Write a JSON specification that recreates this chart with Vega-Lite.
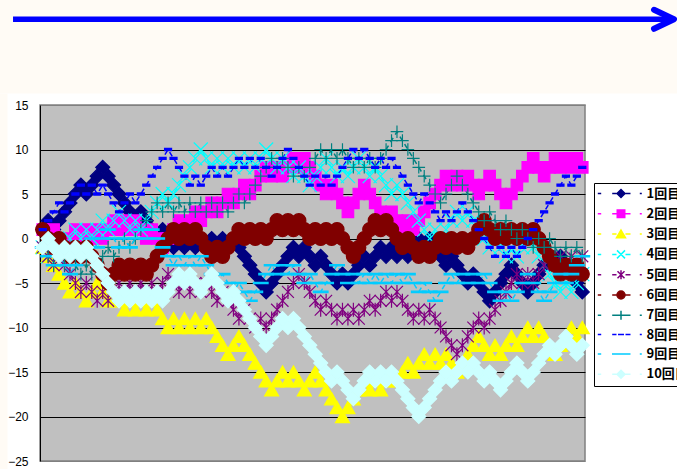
{
"$schema":"https://vega.github.io/schema/vega-lite/v6.json",
"width":545,"height":356,
"autosize":{"type":"none"},
"padding":{"left":40,"top":105,"right":92,"bottom":8},
"background":"#FFFFFF",
"config":{"view":{"fill":"#C0C0C0","stroke":"#808080","strokeWidth":1.5},"font":"Liberation Sans"},
"resolve":{"scale":{"shape":"independent","fill":"independent","stroke":"independent"}},
"data":{"values":[
{"s":"1回目","i":1,"v":1},{"s":"1回目","i":2,"v":2},{"s":"1回目","i":3,"v":1},{"s":"1回目","i":4,"v":2},{"s":"1回目","i":5,"v":3},{"s":"1回目","i":6,"v":4},{"s":"1回目","i":7,"v":5},{"s":"1回目","i":8,"v":6},{"s":"1回目","i":9,"v":5},{"s":"1回目","i":10,"v":6},
{"s":"1回目","i":11,"v":7},{"s":"1回目","i":12,"v":8},{"s":"1回目","i":13,"v":7},{"s":"1回目","i":14,"v":6},{"s":"1回目","i":15,"v":5},{"s":"1回目","i":16,"v":4},{"s":"1回目","i":17,"v":3},{"s":"1回目","i":18,"v":2},{"s":"1回目","i":19,"v":3},{"s":"1回目","i":20,"v":2},
{"s":"1回目","i":21,"v":1},{"s":"1回目","i":22,"v":0},{"s":"1回目","i":23,"v":1},{"s":"1回目","i":24,"v":0},{"s":"1回目","i":25,"v":-1},{"s":"1回目","i":26,"v":0},{"s":"1回目","i":27,"v":-1},{"s":"1回目","i":28,"v":0},{"s":"1回目","i":29,"v":-1},{"s":"1回目","i":30,"v":0},
{"s":"1回目","i":31,"v":-1},{"s":"1回目","i":32,"v":0},{"s":"1回目","i":33,"v":-1},{"s":"1回目","i":34,"v":0},{"s":"1回目","i":35,"v":-1},{"s":"1回目","i":36,"v":0},{"s":"1回目","i":37,"v":-1},{"s":"1回目","i":38,"v":-2},{"s":"1回目","i":39,"v":-3},{"s":"1回目","i":40,"v":-4},
{"s":"1回目","i":41,"v":-5},{"s":"1回目","i":42,"v":-6},{"s":"1回目","i":43,"v":-5},{"s":"1回目","i":44,"v":-4},{"s":"1回目","i":45,"v":-3},{"s":"1回目","i":46,"v":-2},{"s":"1回目","i":47,"v":-1},{"s":"1回目","i":48,"v":-2},{"s":"1回目","i":49,"v":-1},{"s":"1回目","i":50,"v":-2},
{"s":"1回目","i":51,"v":-3},{"s":"1回目","i":52,"v":-2},{"s":"1回目","i":53,"v":-3},{"s":"1回目","i":54,"v":-4},{"s":"1回目","i":55,"v":-5},{"s":"1回目","i":56,"v":-4},{"s":"1回目","i":57,"v":-5},{"s":"1回目","i":58,"v":-4},{"s":"1回目","i":59,"v":-3},{"s":"1回目","i":60,"v":-2},
{"s":"1回目","i":61,"v":-3},{"s":"1回目","i":62,"v":-2},{"s":"1回目","i":63,"v":-1},{"s":"1回目","i":64,"v":-2},{"s":"1回目","i":65,"v":-1},{"s":"1回目","i":66,"v":-2},{"s":"1回目","i":67,"v":-1},{"s":"1回目","i":68,"v":-2},{"s":"1回目","i":69,"v":-1},{"s":"1回目","i":70,"v":0},
{"s":"1回目","i":71,"v":-1},{"s":"1回目","i":72,"v":0},{"s":"1回目","i":73,"v":-1},{"s":"1回目","i":74,"v":-2},{"s":"1回目","i":75,"v":-3},{"s":"1回目","i":76,"v":-2},{"s":"1回目","i":77,"v":-3},{"s":"1回目","i":78,"v":-4},{"s":"1回目","i":79,"v":-5},{"s":"1回目","i":80,"v":-4},
{"s":"1回目","i":81,"v":-5},{"s":"1回目","i":82,"v":-6},{"s":"1回目","i":83,"v":-7},{"s":"1回目","i":84,"v":-6},{"s":"1回目","i":85,"v":-5},{"s":"1回目","i":86,"v":-4},{"s":"1回目","i":87,"v":-3},{"s":"1回目","i":88,"v":-4},{"s":"1回目","i":89,"v":-5},{"s":"1回目","i":90,"v":-6},
{"s":"1回目","i":91,"v":-5},{"s":"1回目","i":92,"v":-4},{"s":"1回目","i":93,"v":-3},{"s":"1回目","i":94,"v":-2},{"s":"1回目","i":95,"v":-3},{"s":"1回目","i":96,"v":-2},{"s":"1回目","i":97,"v":-3},{"s":"1回目","i":98,"v":-4},{"s":"1回目","i":99,"v":-5},{"s":"1回目","i":100,"v":-6},
{"s":"2回目","i":1,"v":1},{"s":"2回目","i":2,"v":0},{"s":"2回目","i":3,"v":1},{"s":"2回目","i":4,"v":0},{"s":"2回目","i":5,"v":-1},{"s":"2回目","i":6,"v":0},{"s":"2回目","i":7,"v":1},{"s":"2回目","i":8,"v":0},{"s":"2回目","i":9,"v":1},{"s":"2回目","i":10,"v":0},
{"s":"2回目","i":11,"v":1},{"s":"2回目","i":12,"v":0},{"s":"2回目","i":13,"v":1},{"s":"2回目","i":14,"v":2},{"s":"2回目","i":15,"v":1},{"s":"2回目","i":16,"v":2},{"s":"2回目","i":17,"v":1},{"s":"2回目","i":18,"v":2},{"s":"2回目","i":19,"v":1},{"s":"2回目","i":20,"v":0},
{"s":"2回目","i":21,"v":1},{"s":"2回目","i":22,"v":0},{"s":"2回目","i":23,"v":-1},{"s":"2回目","i":24,"v":0},{"s":"2回目","i":25,"v":1},{"s":"2回目","i":26,"v":2},{"s":"2回目","i":27,"v":1},{"s":"2回目","i":28,"v":2},{"s":"2回目","i":29,"v":3},{"s":"2回目","i":30,"v":2},
{"s":"2回目","i":31,"v":3},{"s":"2回目","i":32,"v":4},{"s":"2回目","i":33,"v":3},{"s":"2回目","i":34,"v":4},{"s":"2回目","i":35,"v":5},{"s":"2回目","i":36,"v":4},{"s":"2回目","i":37,"v":5},{"s":"2回目","i":38,"v":6},{"s":"2回目","i":39,"v":5},{"s":"2回目","i":40,"v":6},
{"s":"2回目","i":41,"v":7},{"s":"2回目","i":42,"v":8},{"s":"2回目","i":43,"v":7},{"s":"2回目","i":44,"v":8},{"s":"2回目","i":45,"v":7},{"s":"2回目","i":46,"v":8},{"s":"2回目","i":47,"v":9},{"s":"2回目","i":48,"v":8},{"s":"2回目","i":49,"v":9},{"s":"2回目","i":50,"v":8},
{"s":"2回目","i":51,"v":7},{"s":"2回目","i":52,"v":6},{"s":"2回目","i":53,"v":5},{"s":"2回目","i":54,"v":6},{"s":"2回目","i":55,"v":5},{"s":"2回目","i":56,"v":4},{"s":"2回目","i":57,"v":3},{"s":"2回目","i":58,"v":4},{"s":"2回目","i":59,"v":5},{"s":"2回目","i":60,"v":6},
{"s":"2回目","i":61,"v":5},{"s":"2回目","i":62,"v":4},{"s":"2回目","i":63,"v":3},{"s":"2回目","i":64,"v":2},{"s":"2回目","i":65,"v":3},{"s":"2回目","i":66,"v":2},{"s":"2回目","i":67,"v":1},{"s":"2回目","i":68,"v":2},{"s":"2回目","i":69,"v":1},{"s":"2回目","i":70,"v":2},
{"s":"2回目","i":71,"v":3},{"s":"2回目","i":72,"v":4},{"s":"2回目","i":73,"v":5},{"s":"2回目","i":74,"v":6},{"s":"2回目","i":75,"v":7},{"s":"2回目","i":76,"v":6},{"s":"2回目","i":77,"v":7},{"s":"2回目","i":78,"v":6},{"s":"2回目","i":79,"v":7},{"s":"2回目","i":80,"v":6},
{"s":"2回目","i":81,"v":5},{"s":"2回目","i":82,"v":6},{"s":"2回目","i":83,"v":7},{"s":"2回目","i":84,"v":6},{"s":"2回目","i":85,"v":5},{"s":"2回目","i":86,"v":4},{"s":"2回目","i":87,"v":5},{"s":"2回目","i":88,"v":6},{"s":"2回目","i":89,"v":7},{"s":"2回目","i":90,"v":8},
{"s":"2回目","i":91,"v":9},{"s":"2回目","i":92,"v":8},{"s":"2回目","i":93,"v":7},{"s":"2回目","i":94,"v":8},{"s":"2回目","i":95,"v":9},{"s":"2回目","i":96,"v":8},{"s":"2回目","i":97,"v":9},{"s":"2回目","i":98,"v":8},{"s":"2回目","i":99,"v":9},{"s":"2回目","i":100,"v":8},
{"s":"3回目","i":1,"v":-1},{"s":"3回目","i":2,"v":-2},{"s":"3回目","i":3,"v":-3},{"s":"3回目","i":4,"v":-4},{"s":"3回目","i":5,"v":-5},{"s":"3回目","i":6,"v":-6},{"s":"3回目","i":7,"v":-5},{"s":"3回目","i":8,"v":-6},{"s":"3回目","i":9,"v":-7},{"s":"3回目","i":10,"v":-6},
{"s":"3回目","i":11,"v":-5},{"s":"3回目","i":12,"v":-6},{"s":"3回目","i":13,"v":-7},{"s":"3回目","i":14,"v":-6},{"s":"3回目","i":15,"v":-7},{"s":"3回目","i":16,"v":-8},{"s":"3回目","i":17,"v":-7},{"s":"3回目","i":18,"v":-8},{"s":"3回目","i":19,"v":-7},{"s":"3回目","i":20,"v":-8},
{"s":"3回目","i":21,"v":-7},{"s":"3回目","i":22,"v":-8},{"s":"3回目","i":23,"v":-9},{"s":"3回目","i":24,"v":-10},{"s":"3回目","i":25,"v":-9},{"s":"3回目","i":26,"v":-10},{"s":"3回目","i":27,"v":-9},{"s":"3回目","i":28,"v":-10},{"s":"3回目","i":29,"v":-9},{"s":"3回目","i":30,"v":-10},
{"s":"3回目","i":31,"v":-9},{"s":"3回目","i":32,"v":-10},{"s":"3回目","i":33,"v":-11},{"s":"3回目","i":34,"v":-12},{"s":"3回目","i":35,"v":-13},{"s":"3回目","i":36,"v":-12},{"s":"3回目","i":37,"v":-11},{"s":"3回目","i":38,"v":-12},{"s":"3回目","i":39,"v":-13},{"s":"3回目","i":40,"v":-14},
{"s":"3回目","i":41,"v":-15},{"s":"3回目","i":42,"v":-16},{"s":"3回目","i":43,"v":-17},{"s":"3回目","i":44,"v":-16},{"s":"3回目","i":45,"v":-15},{"s":"3回目","i":46,"v":-16},{"s":"3回目","i":47,"v":-15},{"s":"3回目","i":48,"v":-16},{"s":"3回目","i":49,"v":-17},{"s":"3回目","i":50,"v":-16},
{"s":"3回目","i":51,"v":-15},{"s":"3回目","i":52,"v":-16},{"s":"3回目","i":53,"v":-17},{"s":"3回目","i":54,"v":-18},{"s":"3回目","i":55,"v":-19},{"s":"3回目","i":56,"v":-20},{"s":"3回目","i":57,"v":-19},{"s":"3回目","i":58,"v":-18},{"s":"3回目","i":59,"v":-17},{"s":"3回目","i":60,"v":-16},
{"s":"3回目","i":61,"v":-17},{"s":"3回目","i":62,"v":-16},{"s":"3回目","i":63,"v":-17},{"s":"3回目","i":64,"v":-16},{"s":"3回目","i":65,"v":-15},{"s":"3回目","i":66,"v":-16},{"s":"3回目","i":67,"v":-15},{"s":"3回目","i":68,"v":-14},{"s":"3回目","i":69,"v":-15},{"s":"3回目","i":70,"v":-14},
{"s":"3回目","i":71,"v":-13},{"s":"3回目","i":72,"v":-14},{"s":"3回目","i":73,"v":-13},{"s":"3回目","i":74,"v":-14},{"s":"3回目","i":75,"v":-13},{"s":"3回目","i":76,"v":-14},{"s":"3回目","i":77,"v":-15},{"s":"3回目","i":78,"v":-14},{"s":"3回目","i":79,"v":-13},{"s":"3回目","i":80,"v":-12},
{"s":"3回目","i":81,"v":-11},{"s":"3回目","i":82,"v":-12},{"s":"3回目","i":83,"v":-13},{"s":"3回目","i":84,"v":-12},{"s":"3回目","i":85,"v":-13},{"s":"3回目","i":86,"v":-12},{"s":"3回目","i":87,"v":-11},{"s":"3回目","i":88,"v":-12},{"s":"3回目","i":89,"v":-11},{"s":"3回目","i":90,"v":-10},
{"s":"3回目","i":91,"v":-11},{"s":"3回目","i":92,"v":-10},{"s":"3回目","i":93,"v":-11},{"s":"3回目","i":94,"v":-12},{"s":"3回目","i":95,"v":-13},{"s":"3回目","i":96,"v":-12},{"s":"3回目","i":97,"v":-11},{"s":"3回目","i":98,"v":-10},{"s":"3回目","i":99,"v":-11},{"s":"3回目","i":100,"v":-10},
{"s":"4回目","i":1,"v":-1},{"s":"4回目","i":2,"v":-2},{"s":"4回目","i":3,"v":-1},{"s":"4回目","i":4,"v":-2},{"s":"4回目","i":5,"v":-1},{"s":"4回目","i":6,"v":0},{"s":"4回目","i":7,"v":1},{"s":"4回目","i":8,"v":0},{"s":"4回目","i":9,"v":1},{"s":"4回目","i":10,"v":0},
{"s":"4回目","i":11,"v":1},{"s":"4回目","i":12,"v":2},{"s":"4回目","i":13,"v":1},{"s":"4回目","i":14,"v":2},{"s":"4回目","i":15,"v":3},{"s":"4回目","i":16,"v":2},{"s":"4回目","i":17,"v":1},{"s":"4回目","i":18,"v":2},{"s":"4回目","i":19,"v":1},{"s":"4回目","i":20,"v":2},
{"s":"4回目","i":21,"v":3},{"s":"4回目","i":22,"v":4},{"s":"4回目","i":23,"v":5},{"s":"4回目","i":24,"v":4},{"s":"4回目","i":25,"v":5},{"s":"4回目","i":26,"v":6},{"s":"4回目","i":27,"v":7},{"s":"4回目","i":28,"v":8},{"s":"4回目","i":29,"v":9},{"s":"4回目","i":30,"v":10},
{"s":"4回目","i":31,"v":9},{"s":"4回目","i":32,"v":8},{"s":"4回目","i":33,"v":9},{"s":"4回目","i":34,"v":8},{"s":"4回目","i":35,"v":9},{"s":"4回目","i":36,"v":8},{"s":"4回目","i":37,"v":9},{"s":"4回目","i":38,"v":8},{"s":"4回目","i":39,"v":9},{"s":"4回目","i":40,"v":8},
{"s":"4回目","i":41,"v":9},{"s":"4回目","i":42,"v":10},{"s":"4回目","i":43,"v":9},{"s":"4回目","i":44,"v":8},{"s":"4回目","i":45,"v":9},{"s":"4回目","i":46,"v":8},{"s":"4回目","i":47,"v":7},{"s":"4回目","i":48,"v":8},{"s":"4回目","i":49,"v":7},{"s":"4回目","i":50,"v":6},
{"s":"4回目","i":51,"v":7},{"s":"4回目","i":52,"v":8},{"s":"4回目","i":53,"v":9},{"s":"4回目","i":54,"v":8},{"s":"4回目","i":55,"v":7},{"s":"4回目","i":56,"v":8},{"s":"4回目","i":57,"v":7},{"s":"4回目","i":58,"v":8},{"s":"4回目","i":59,"v":9},{"s":"4回目","i":60,"v":8},
{"s":"4回目","i":61,"v":7},{"s":"4回目","i":62,"v":8},{"s":"4回目","i":63,"v":7},{"s":"4回目","i":64,"v":6},{"s":"4回目","i":65,"v":5},{"s":"4回目","i":66,"v":6},{"s":"4回目","i":67,"v":5},{"s":"4回目","i":68,"v":4},{"s":"4回目","i":69,"v":3},{"s":"4回目","i":70,"v":2},
{"s":"4回目","i":71,"v":1},{"s":"4回目","i":72,"v":0},{"s":"4回目","i":73,"v":1},{"s":"4回目","i":74,"v":0},{"s":"4回目","i":75,"v":1},{"s":"4回目","i":76,"v":2},{"s":"4回目","i":77,"v":3},{"s":"4回目","i":78,"v":2},{"s":"4回目","i":79,"v":3},{"s":"4回目","i":80,"v":2},
{"s":"4回目","i":81,"v":1},{"s":"4回目","i":82,"v":0},{"s":"4回目","i":83,"v":-1},{"s":"4回目","i":84,"v":0},{"s":"4回目","i":85,"v":-1},{"s":"4回目","i":86,"v":-2},{"s":"4回目","i":87,"v":-1},{"s":"4回目","i":88,"v":-2},{"s":"4回目","i":89,"v":-1},{"s":"4回目","i":90,"v":0},
{"s":"4回目","i":91,"v":-1},{"s":"4回目","i":92,"v":-2},{"s":"4回目","i":93,"v":-3},{"s":"4回目","i":94,"v":-4},{"s":"4回目","i":95,"v":-5},{"s":"4回目","i":96,"v":-6},{"s":"4回目","i":97,"v":-5},{"s":"4回目","i":98,"v":-6},{"s":"4回目","i":99,"v":-5},{"s":"4回目","i":100,"v":-4},
{"s":"5回目","i":1,"v":-1},{"s":"5回目","i":2,"v":-2},{"s":"5回目","i":3,"v":-3},{"s":"5回目","i":4,"v":-2},{"s":"5回目","i":5,"v":-3},{"s":"5回目","i":6,"v":-4},{"s":"5回目","i":7,"v":-5},{"s":"5回目","i":8,"v":-6},{"s":"5回目","i":9,"v":-5},{"s":"5回目","i":10,"v":-6},
{"s":"5回目","i":11,"v":-7},{"s":"5回目","i":12,"v":-6},{"s":"5回目","i":13,"v":-7},{"s":"5回目","i":14,"v":-6},{"s":"5回目","i":15,"v":-5},{"s":"5回目","i":16,"v":-6},{"s":"5回目","i":17,"v":-5},{"s":"5回目","i":18,"v":-6},{"s":"5回目","i":19,"v":-5},{"s":"5回目","i":20,"v":-6},
{"s":"5回目","i":21,"v":-5},{"s":"5回目","i":22,"v":-6},{"s":"5回目","i":23,"v":-5},{"s":"5回目","i":24,"v":-4},{"s":"5回目","i":25,"v":-5},{"s":"5回目","i":26,"v":-6},{"s":"5回目","i":27,"v":-5},{"s":"5回目","i":28,"v":-6},{"s":"5回目","i":29,"v":-5},{"s":"5回目","i":30,"v":-6},
{"s":"5回目","i":31,"v":-5},{"s":"5回目","i":32,"v":-6},{"s":"5回目","i":33,"v":-7},{"s":"5回目","i":34,"v":-6},{"s":"5回目","i":35,"v":-7},{"s":"5回目","i":36,"v":-8},{"s":"5回目","i":37,"v":-9},{"s":"5回目","i":38,"v":-8},{"s":"5回目","i":39,"v":-9},{"s":"5回目","i":40,"v":-10},
{"s":"5回目","i":41,"v":-9},{"s":"5回目","i":42,"v":-10},{"s":"5回目","i":43,"v":-9},{"s":"5回目","i":44,"v":-8},{"s":"5回目","i":45,"v":-7},{"s":"5回目","i":46,"v":-6},{"s":"5回目","i":47,"v":-5},{"s":"5回目","i":48,"v":-4},{"s":"5回目","i":49,"v":-5},{"s":"5回目","i":50,"v":-6},
{"s":"5回目","i":51,"v":-7},{"s":"5回目","i":52,"v":-8},{"s":"5回目","i":53,"v":-7},{"s":"5回目","i":54,"v":-8},{"s":"5回目","i":55,"v":-9},{"s":"5回目","i":56,"v":-8},{"s":"5回目","i":57,"v":-9},{"s":"5回目","i":58,"v":-8},{"s":"5回目","i":59,"v":-9},{"s":"5回目","i":60,"v":-8},
{"s":"5回目","i":61,"v":-7},{"s":"5回目","i":62,"v":-8},{"s":"5回目","i":63,"v":-7},{"s":"5回目","i":64,"v":-6},{"s":"5回目","i":65,"v":-7},{"s":"5回目","i":66,"v":-6},{"s":"5回目","i":67,"v":-7},{"s":"5回目","i":68,"v":-8},{"s":"5回目","i":69,"v":-9},{"s":"5回目","i":70,"v":-8},
{"s":"5回目","i":71,"v":-9},{"s":"5回目","i":72,"v":-8},{"s":"5回目","i":73,"v":-9},{"s":"5回目","i":74,"v":-10},{"s":"5回目","i":75,"v":-11},{"s":"5回目","i":76,"v":-12},{"s":"5回目","i":77,"v":-13},{"s":"5回目","i":78,"v":-12},{"s":"5回目","i":79,"v":-11},{"s":"5回目","i":80,"v":-10},
{"s":"5回目","i":81,"v":-9},{"s":"5回目","i":82,"v":-10},{"s":"5回目","i":83,"v":-9},{"s":"5回目","i":84,"v":-8},{"s":"5回目","i":85,"v":-7},{"s":"5回目","i":86,"v":-6},{"s":"5回目","i":87,"v":-5},{"s":"5回目","i":88,"v":-4},{"s":"5回目","i":89,"v":-5},{"s":"5回目","i":90,"v":-4},
{"s":"5回目","i":91,"v":-5},{"s":"5回目","i":92,"v":-4},{"s":"5回目","i":93,"v":-3},{"s":"5回目","i":94,"v":-2},{"s":"5回目","i":95,"v":-3},{"s":"5回目","i":96,"v":-2},{"s":"5回目","i":97,"v":-3},{"s":"5回目","i":98,"v":-2},{"s":"5回目","i":99,"v":-3},{"s":"5回目","i":100,"v":-2},
{"s":"6回目","i":1,"v":1},{"s":"6回目","i":2,"v":0},{"s":"6回目","i":3,"v":-1},{"s":"6回目","i":4,"v":0},{"s":"6回目","i":5,"v":-1},{"s":"6回目","i":6,"v":-2},{"s":"6回目","i":7,"v":-1},{"s":"6回目","i":8,"v":-2},{"s":"6回目","i":9,"v":-1},{"s":"6回目","i":10,"v":-2},
{"s":"6回目","i":11,"v":-3},{"s":"6回目","i":12,"v":-4},{"s":"6回目","i":13,"v":-5},{"s":"6回目","i":14,"v":-4},{"s":"6回目","i":15,"v":-3},{"s":"6回目","i":16,"v":-4},{"s":"6回目","i":17,"v":-3},{"s":"6回目","i":18,"v":-4},{"s":"6回目","i":19,"v":-3},{"s":"6回目","i":20,"v":-4},
{"s":"6回目","i":21,"v":-3},{"s":"6回目","i":22,"v":-2},{"s":"6回目","i":23,"v":-1},{"s":"6回目","i":24,"v":0},{"s":"6回目","i":25,"v":1},{"s":"6回目","i":26,"v":0},{"s":"6回目","i":27,"v":1},{"s":"6回目","i":28,"v":0},{"s":"6回目","i":29,"v":1},{"s":"6回目","i":30,"v":0},
{"s":"6回目","i":31,"v":-1},{"s":"6回目","i":32,"v":-2},{"s":"6回目","i":33,"v":-1},{"s":"6回目","i":34,"v":-2},{"s":"6回目","i":35,"v":-1},{"s":"6回目","i":36,"v":0},{"s":"6回目","i":37,"v":1},{"s":"6回目","i":38,"v":0},{"s":"6回目","i":39,"v":1},{"s":"6回目","i":40,"v":0},
{"s":"6回目","i":41,"v":1},{"s":"6回目","i":42,"v":0},{"s":"6回目","i":43,"v":1},{"s":"6回目","i":44,"v":2},{"s":"6回目","i":45,"v":1},{"s":"6回目","i":46,"v":2},{"s":"6回目","i":47,"v":1},{"s":"6回目","i":48,"v":2},{"s":"6回目","i":49,"v":1},{"s":"6回目","i":50,"v":0},
{"s":"6回目","i":51,"v":1},{"s":"6回目","i":52,"v":0},{"s":"6回目","i":53,"v":1},{"s":"6回目","i":54,"v":0},{"s":"6回目","i":55,"v":1},{"s":"6回目","i":56,"v":0},{"s":"6回目","i":57,"v":-1},{"s":"6回目","i":58,"v":-2},{"s":"6回目","i":59,"v":-1},{"s":"6回目","i":60,"v":0},
{"s":"6回目","i":61,"v":1},{"s":"6回目","i":62,"v":2},{"s":"6回目","i":63,"v":1},{"s":"6回目","i":64,"v":2},{"s":"6回目","i":65,"v":1},{"s":"6回目","i":66,"v":0},{"s":"6回目","i":67,"v":-1},{"s":"6回目","i":68,"v":0},{"s":"6回目","i":69,"v":-1},{"s":"6回目","i":70,"v":-2},
{"s":"6回目","i":71,"v":-1},{"s":"6回目","i":72,"v":-2},{"s":"6回目","i":73,"v":-1},{"s":"6回目","i":74,"v":0},{"s":"6回目","i":75,"v":-1},{"s":"6回目","i":76,"v":0},{"s":"6回目","i":77,"v":-1},{"s":"6回目","i":78,"v":0},{"s":"6回目","i":79,"v":-1},{"s":"6回目","i":80,"v":0},
{"s":"6回目","i":81,"v":1},{"s":"6回目","i":82,"v":2},{"s":"6回目","i":83,"v":1},{"s":"6回目","i":84,"v":0},{"s":"6回目","i":85,"v":1},{"s":"6回目","i":86,"v":0},{"s":"6回目","i":87,"v":1},{"s":"6回目","i":88,"v":0},{"s":"6回目","i":89,"v":1},{"s":"6回目","i":90,"v":0},
{"s":"6回目","i":91,"v":1},{"s":"6回目","i":92,"v":0},{"s":"6回目","i":93,"v":-1},{"s":"6回目","i":94,"v":-2},{"s":"6回目","i":95,"v":-3},{"s":"6回目","i":96,"v":-4},{"s":"6回目","i":97,"v":-3},{"s":"6回目","i":98,"v":-4},{"s":"6回目","i":99,"v":-3},{"s":"6回目","i":100,"v":-4},
{"s":"7回目","i":1,"v":-1},{"s":"7回目","i":2,"v":-2},{"s":"7回目","i":3,"v":-3},{"s":"7回目","i":4,"v":-2},{"s":"7回目","i":5,"v":-3},{"s":"7回目","i":6,"v":-2},{"s":"7回目","i":7,"v":-3},{"s":"7回目","i":8,"v":-4},{"s":"7回目","i":9,"v":-3},{"s":"7回目","i":10,"v":-4},
{"s":"7回目","i":11,"v":-3},{"s":"7回目","i":12,"v":-2},{"s":"7回目","i":13,"v":-1},{"s":"7回目","i":14,"v":-2},{"s":"7回目","i":15,"v":-1},{"s":"7回目","i":16,"v":0},{"s":"7回目","i":17,"v":-1},{"s":"7回目","i":18,"v":0},{"s":"7回目","i":19,"v":1},{"s":"7回目","i":20,"v":2},
{"s":"7回目","i":21,"v":3},{"s":"7回目","i":22,"v":4},{"s":"7回目","i":23,"v":3},{"s":"7回目","i":24,"v":4},{"s":"7回目","i":25,"v":3},{"s":"7回目","i":26,"v":4},{"s":"7回目","i":27,"v":3},{"s":"7回目","i":28,"v":4},{"s":"7回目","i":29,"v":3},{"s":"7回目","i":30,"v":4},
{"s":"7回目","i":31,"v":3},{"s":"7回目","i":32,"v":4},{"s":"7回目","i":33,"v":3},{"s":"7回目","i":34,"v":4},{"s":"7回目","i":35,"v":3},{"s":"7回目","i":36,"v":4},{"s":"7回目","i":37,"v":5},{"s":"7回目","i":38,"v":4},{"s":"7回目","i":39,"v":5},{"s":"7回目","i":40,"v":6},
{"s":"7回目","i":41,"v":7},{"s":"7回目","i":42,"v":8},{"s":"7回目","i":43,"v":9},{"s":"7回目","i":44,"v":8},{"s":"7回目","i":45,"v":9},{"s":"7回目","i":46,"v":8},{"s":"7回目","i":47,"v":7},{"s":"7回目","i":48,"v":8},{"s":"7回目","i":49,"v":7},{"s":"7回目","i":50,"v":8},
{"s":"7回目","i":51,"v":9},{"s":"7回目","i":52,"v":10},{"s":"7回目","i":53,"v":9},{"s":"7回目","i":54,"v":10},{"s":"7回目","i":55,"v":9},{"s":"7回目","i":56,"v":10},{"s":"7回目","i":57,"v":9},{"s":"7回目","i":58,"v":8},{"s":"7回目","i":59,"v":9},{"s":"7回目","i":60,"v":8},
{"s":"7回目","i":61,"v":9},{"s":"7回目","i":62,"v":8},{"s":"7回目","i":63,"v":9},{"s":"7回目","i":64,"v":10},{"s":"7回目","i":65,"v":11},{"s":"7回目","i":66,"v":12},{"s":"7回目","i":67,"v":11},{"s":"7回目","i":68,"v":10},{"s":"7回目","i":69,"v":9},{"s":"7回目","i":70,"v":8},
{"s":"7回目","i":71,"v":7},{"s":"7回目","i":72,"v":6},{"s":"7回目","i":73,"v":5},{"s":"7回目","i":74,"v":4},{"s":"7回目","i":75,"v":5},{"s":"7回目","i":76,"v":6},{"s":"7回目","i":77,"v":7},{"s":"7回目","i":78,"v":6},{"s":"7回目","i":79,"v":5},{"s":"7回目","i":80,"v":4},
{"s":"7回目","i":81,"v":3},{"s":"7回目","i":82,"v":2},{"s":"7回目","i":83,"v":3},{"s":"7回目","i":84,"v":2},{"s":"7回目","i":85,"v":1},{"s":"7回目","i":86,"v":2},{"s":"7回目","i":87,"v":1},{"s":"7回目","i":88,"v":0},{"s":"7回目","i":89,"v":1},{"s":"7回目","i":90,"v":0},
{"s":"7回目","i":91,"v":-1},{"s":"7回目","i":92,"v":0},{"s":"7回目","i":93,"v":-1},{"s":"7回目","i":94,"v":0},{"s":"7回目","i":95,"v":-1},{"s":"7回目","i":96,"v":-2},{"s":"7回目","i":97,"v":-1},{"s":"7回目","i":98,"v":-2},{"s":"7回目","i":99,"v":-1},{"s":"7回目","i":100,"v":-2},
{"s":"8回目","i":1,"v":1},{"s":"8回目","i":2,"v":2},{"s":"8回目","i":3,"v":3},{"s":"8回目","i":4,"v":4},{"s":"8回目","i":5,"v":3},{"s":"8回目","i":6,"v":4},{"s":"8回目","i":7,"v":5},{"s":"8回目","i":8,"v":6},{"s":"8回目","i":9,"v":5},{"s":"8回目","i":10,"v":6},
{"s":"8回目","i":11,"v":5},{"s":"8回目","i":12,"v":6},{"s":"8回目","i":13,"v":5},{"s":"8回目","i":14,"v":4},{"s":"8回目","i":15,"v":3},{"s":"8回目","i":16,"v":4},{"s":"8回目","i":17,"v":5},{"s":"8回目","i":18,"v":4},{"s":"8回目","i":19,"v":5},{"s":"8回目","i":20,"v":6},
{"s":"8回目","i":21,"v":7},{"s":"8回目","i":22,"v":8},{"s":"8回目","i":23,"v":9},{"s":"8回目","i":24,"v":10},{"s":"8回目","i":25,"v":9},{"s":"8回目","i":26,"v":8},{"s":"8回目","i":27,"v":7},{"s":"8回目","i":28,"v":6},{"s":"8回目","i":29,"v":7},{"s":"8回目","i":30,"v":6},
{"s":"8回目","i":31,"v":7},{"s":"8回目","i":32,"v":8},{"s":"8回目","i":33,"v":7},{"s":"8回目","i":34,"v":8},{"s":"8回目","i":35,"v":7},{"s":"8回目","i":36,"v":8},{"s":"8回目","i":37,"v":9},{"s":"8回目","i":38,"v":8},{"s":"8回目","i":39,"v":9},{"s":"8回目","i":40,"v":8},
{"s":"8回目","i":41,"v":9},{"s":"8回目","i":42,"v":8},{"s":"8回目","i":43,"v":7},{"s":"8回目","i":44,"v":8},{"s":"8回目","i":45,"v":9},{"s":"8回目","i":46,"v":10},{"s":"8回目","i":47,"v":9},{"s":"8回目","i":48,"v":8},{"s":"8回目","i":49,"v":7},{"s":"8回目","i":50,"v":6},
{"s":"8回目","i":51,"v":7},{"s":"8回目","i":52,"v":6},{"s":"8回目","i":53,"v":7},{"s":"8回目","i":54,"v":6},{"s":"8回目","i":55,"v":7},{"s":"8回目","i":56,"v":8},{"s":"8回目","i":57,"v":9},{"s":"8回目","i":58,"v":10},{"s":"8回目","i":59,"v":9},{"s":"8回目","i":60,"v":10},
{"s":"8回目","i":61,"v":9},{"s":"8回目","i":62,"v":8},{"s":"8回目","i":63,"v":9},{"s":"8回目","i":64,"v":8},{"s":"8回目","i":65,"v":9},{"s":"8回目","i":66,"v":8},{"s":"8回目","i":67,"v":7},{"s":"8回目","i":68,"v":6},{"s":"8回目","i":69,"v":5},{"s":"8回目","i":70,"v":4},
{"s":"8回目","i":71,"v":5},{"s":"8回目","i":72,"v":4},{"s":"8回目","i":73,"v":3},{"s":"8回目","i":74,"v":2},{"s":"8回目","i":75,"v":3},{"s":"8回目","i":76,"v":2},{"s":"8回目","i":77,"v":3},{"s":"8回目","i":78,"v":4},{"s":"8回目","i":79,"v":3},{"s":"8回目","i":80,"v":2},
{"s":"8回目","i":81,"v":1},{"s":"8回目","i":82,"v":0},{"s":"8回目","i":83,"v":-1},{"s":"8回目","i":84,"v":-2},{"s":"8回目","i":85,"v":-1},{"s":"8回目","i":86,"v":-2},{"s":"8回目","i":87,"v":-1},{"s":"8回目","i":88,"v":-2},{"s":"8回目","i":89,"v":-1},{"s":"8回目","i":90,"v":0},
{"s":"8回目","i":91,"v":1},{"s":"8回目","i":92,"v":2},{"s":"8回目","i":93,"v":3},{"s":"8回目","i":94,"v":4},{"s":"8回目","i":95,"v":5},{"s":"8回目","i":96,"v":6},{"s":"8回目","i":97,"v":7},{"s":"8回目","i":98,"v":6},{"s":"8回目","i":99,"v":7},{"s":"8回目","i":100,"v":8},
{"s":"9回目","i":1,"v":-1},{"s":"9回目","i":2,"v":-2},{"s":"9回目","i":3,"v":-3},{"s":"9回目","i":4,"v":-2},{"s":"9回目","i":5,"v":-3},{"s":"9回目","i":6,"v":-4},{"s":"9回目","i":7,"v":-3},{"s":"9回目","i":8,"v":-2},{"s":"9回目","i":9,"v":-1},{"s":"9回目","i":10,"v":0},
{"s":"9回目","i":11,"v":-1},{"s":"9回目","i":12,"v":0},{"s":"9回目","i":13,"v":1},{"s":"9回目","i":14,"v":0},{"s":"9回目","i":15,"v":-1},{"s":"9回目","i":16,"v":0},{"s":"9回目","i":17,"v":-1},{"s":"9回目","i":18,"v":0},{"s":"9回目","i":19,"v":1},{"s":"9回目","i":20,"v":0},
{"s":"9回目","i":21,"v":1},{"s":"9回目","i":22,"v":0},{"s":"9回目","i":23,"v":-1},{"s":"9回目","i":24,"v":-2},{"s":"9回目","i":25,"v":-3},{"s":"9回目","i":26,"v":-2},{"s":"9回目","i":27,"v":-3},{"s":"9回目","i":28,"v":-2},{"s":"9回目","i":29,"v":-3},{"s":"9回目","i":30,"v":-2},
{"s":"9回目","i":31,"v":-3},{"s":"9回目","i":32,"v":-4},{"s":"9回目","i":33,"v":-5},{"s":"9回目","i":34,"v":-4},{"s":"9回目","i":35,"v":-5},{"s":"9回目","i":36,"v":-6},{"s":"9回目","i":37,"v":-5},{"s":"9回目","i":38,"v":-6},{"s":"9回目","i":39,"v":-7},{"s":"9回目","i":40,"v":-6},
{"s":"9回目","i":41,"v":-5},{"s":"9回目","i":42,"v":-4},{"s":"9回目","i":43,"v":-3},{"s":"9回目","i":44,"v":-4},{"s":"9回目","i":45,"v":-3},{"s":"9回目","i":46,"v":-4},{"s":"9回目","i":47,"v":-3},{"s":"9回目","i":48,"v":-4},{"s":"9回目","i":49,"v":-5},{"s":"9回目","i":50,"v":-4},
{"s":"9回目","i":51,"v":-5},{"s":"9回目","i":52,"v":-6},{"s":"9回目","i":53,"v":-5},{"s":"9回目","i":54,"v":-4},{"s":"9回目","i":55,"v":-3},{"s":"9回目","i":56,"v":-4},{"s":"9回目","i":57,"v":-5},{"s":"9回目","i":58,"v":-4},{"s":"9回目","i":59,"v":-5},{"s":"9回目","i":60,"v":-4},
{"s":"9回目","i":61,"v":-5},{"s":"9回目","i":62,"v":-4},{"s":"9回目","i":63,"v":-5},{"s":"9回目","i":64,"v":-4},{"s":"9回目","i":65,"v":-5},{"s":"9回目","i":66,"v":-4},{"s":"9回目","i":67,"v":-5},{"s":"9回目","i":68,"v":-4},{"s":"9回目","i":69,"v":-5},{"s":"9回目","i":70,"v":-6},
{"s":"9回目","i":71,"v":-5},{"s":"9回目","i":72,"v":-6},{"s":"9回目","i":73,"v":-7},{"s":"9回目","i":74,"v":-6},{"s":"9回目","i":75,"v":-5},{"s":"9回目","i":76,"v":-4},{"s":"9回目","i":77,"v":-5},{"s":"9回目","i":78,"v":-4},{"s":"9回目","i":79,"v":-5},{"s":"9回目","i":80,"v":-4},
{"s":"9回目","i":81,"v":-5},{"s":"9回目","i":82,"v":-4},{"s":"9回目","i":83,"v":-5},{"s":"9回目","i":84,"v":-6},{"s":"9回目","i":85,"v":-7},{"s":"9回目","i":86,"v":-6},{"s":"9回目","i":87,"v":-7},{"s":"9回目","i":88,"v":-6},{"s":"9回目","i":89,"v":-5},{"s":"9回目","i":90,"v":-4},
{"s":"9回目","i":91,"v":-5},{"s":"9回目","i":92,"v":-6},{"s":"9回目","i":93,"v":-7},{"s":"9回目","i":94,"v":-6},{"s":"9回目","i":95,"v":-5},{"s":"9回目","i":96,"v":-4},{"s":"9回目","i":97,"v":-5},{"s":"9回目","i":98,"v":-4},{"s":"9回目","i":99,"v":-3},{"s":"9回目","i":100,"v":-2},
{"s":"10回目","i":1,"v":-1},{"s":"10回目","i":2,"v":0},{"s":"10回目","i":3,"v":-1},{"s":"10回目","i":4,"v":-2},{"s":"10回目","i":5,"v":-1},{"s":"10回目","i":6,"v":-2},{"s":"10回目","i":7,"v":-1},{"s":"10回目","i":8,"v":-2},{"s":"10回目","i":9,"v":-1},{"s":"10回目","i":10,"v":-2},
{"s":"10回目","i":11,"v":-3},{"s":"10回目","i":12,"v":-4},{"s":"10回目","i":13,"v":-5},{"s":"10回目","i":14,"v":-6},{"s":"10回目","i":15,"v":-7},{"s":"10回目","i":16,"v":-6},{"s":"10回目","i":17,"v":-7},{"s":"10回目","i":18,"v":-6},{"s":"10回目","i":19,"v":-7},{"s":"10回目","i":20,"v":-6},
{"s":"10回目","i":21,"v":-7},{"s":"10回目","i":22,"v":-6},{"s":"10回目","i":23,"v":-7},{"s":"10回目","i":24,"v":-6},{"s":"10回目","i":25,"v":-5},{"s":"10回目","i":26,"v":-4},{"s":"10回目","i":27,"v":-5},{"s":"10回目","i":28,"v":-4},{"s":"10回目","i":29,"v":-5},{"s":"10回目","i":30,"v":-6},
{"s":"10回目","i":31,"v":-5},{"s":"10回目","i":32,"v":-4},{"s":"10回目","i":33,"v":-5},{"s":"10回目","i":34,"v":-6},{"s":"10回目","i":35,"v":-7},{"s":"10回目","i":36,"v":-6},{"s":"10回目","i":37,"v":-7},{"s":"10回目","i":38,"v":-8},{"s":"10回目","i":39,"v":-9},{"s":"10回目","i":40,"v":-10},
{"s":"10回目","i":41,"v":-11},{"s":"10回目","i":42,"v":-12},{"s":"10回目","i":43,"v":-11},{"s":"10回目","i":44,"v":-10},{"s":"10回目","i":45,"v":-9},{"s":"10回目","i":46,"v":-10},{"s":"10回目","i":47,"v":-9},{"s":"10回目","i":48,"v":-10},{"s":"10回目","i":49,"v":-11},{"s":"10回目","i":50,"v":-12},
{"s":"10回目","i":51,"v":-13},{"s":"10回目","i":52,"v":-14},{"s":"10回目","i":53,"v":-15},{"s":"10回目","i":54,"v":-16},{"s":"10回目","i":55,"v":-15},{"s":"10回目","i":56,"v":-16},{"s":"10回目","i":57,"v":-17},{"s":"10回目","i":58,"v":-18},{"s":"10回目","i":59,"v":-17},{"s":"10回目","i":60,"v":-16},
{"s":"10回目","i":61,"v":-15},{"s":"10回目","i":62,"v":-16},{"s":"10回目","i":63,"v":-15},{"s":"10回目","i":64,"v":-16},{"s":"10回目","i":65,"v":-15},{"s":"10回目","i":66,"v":-16},{"s":"10回目","i":67,"v":-17},{"s":"10回目","i":68,"v":-18},{"s":"10回目","i":69,"v":-19},{"s":"10回目","i":70,"v":-20},
{"s":"10回目","i":71,"v":-19},{"s":"10回目","i":72,"v":-18},{"s":"10回目","i":73,"v":-17},{"s":"10回目","i":74,"v":-16},{"s":"10回目","i":75,"v":-15},{"s":"10回目","i":76,"v":-16},{"s":"10回目","i":77,"v":-15},{"s":"10回目","i":78,"v":-14},{"s":"10回目","i":79,"v":-15},{"s":"10回目","i":80,"v":-14},
{"s":"10回目","i":81,"v":-15},{"s":"10回目","i":82,"v":-16},{"s":"10回目","i":83,"v":-15},{"s":"10回目","i":84,"v":-16},{"s":"10回目","i":85,"v":-17},{"s":"10回目","i":86,"v":-16},{"s":"10回目","i":87,"v":-15},{"s":"10回目","i":88,"v":-14},{"s":"10回目","i":89,"v":-15},{"s":"10回目","i":90,"v":-16},
{"s":"10回目","i":91,"v":-15},{"s":"10回目","i":92,"v":-14},{"s":"10回目","i":93,"v":-13},{"s":"10回目","i":94,"v":-12},{"s":"10回目","i":95,"v":-13},{"s":"10回目","i":96,"v":-12},{"s":"10回目","i":97,"v":-11},{"s":"10回目","i":98,"v":-12},{"s":"10回目","i":99,"v":-13},{"s":"10回目","i":100,"v":-12}
]},
"layer":[
{"mark":{"type":"line","strokeWidth":1.5,"strokeDash":[5,4]},
 "encoding":{
  "x":{"field":"i","type":"quantitative","scale":{"domain":[0.5,100.5],"nice":false,"zero":false},
       "axis":{"title":null,"labels":false,"ticks":false,"domain":false,"grid":false}},
  "y":{"field":"v","type":"quantitative","scale":{"domain":[-25,15],"nice":false,"zero":false},
       "axis":{"values":[-25,-20,-15,-10,-5,0,5,10,15],"title":null,"grid":true,
               "gridColor":{"condition":{"test":"datum.value == 15 || datum.value == -25","value":"#808080"},"value":"#000000"},
               "gridWidth":1,"domain":true,"domainColor":"#000000","domainWidth":1,"ticks":false,
               "labelFont":"Liberation Sans","labelFontSize":12,"labelColor":"#000000","labelPadding":12,"labelFlush":false,"labelBound":false}},
  "color":{"field":"s","type":"nominal","legend":null,
    "scale":{"domain":["1回目","2回目","3回目","4回目","5回目","6回目","7回目","8回目","9回目","10回目"],
             "range":["#000080","#FF00FF","#FFFF00","#00FFFF","#800080","#800000","#008080","#0000FF","#00CCFF","#CCFFFF"]}}
 }},
{"mark":{"type":"point","filled":true,"size":196,"strokeWidth":1.2,"opacity":1},
 "encoding":{
  "x":{"field":"i","type":"quantitative"},
  "y":{"field":"v","type":"quantitative"},
  "fill":{"field":"s","type":"nominal","legend":null,
    "scale":{"domain":["1回目","2回目","3回目","4回目","5回目","6回目","7回目","8回目","9回目","10回目"],
             "range":["#000080","#FF00FF","#FFFF00","#00FFFF","#800080","#800000","#008080","#0000FF","#00CCFF","#CCFFFF"]}},
  "stroke":{"field":"s","type":"nominal","legend":null,
    "scale":{"domain":["1回目","2回目","3回目","4回目","5回目","6回目","7回目","8回目","9回目","10回目"],
             "range":["#000080","#FF00FF","#FFFF00","#00FFFF","#800080","#800000","#008080","#0000FF","#00CCFF","#CCFFFF"]}},
  "shape":{"field":"s","type":"nominal","legend":null,
    "scale":{"domain":["1回目","2回目","3回目","4回目","5回目","6回目","7回目","8回目","9回目","10回目"],
             "range":["M-1,0L0,-1L1,0L0,1Z","M-0.82,-0.82H0.82V0.82H-0.82Z","M0,-0.87L1,0.87L-1,0.87Z","M-1,-1L1,1M-1,1L1,-1","M-0.85,-0.85L0.85,0.85M-0.85,0.85L0.85,-0.85M0,-1V1","M-1,0A1,1,0,1,0,1,0A1,1,0,1,0,-1,0Z","M-0.9,0H0.9M0,-0.9V0.9","M-0.5,-0.15H0.5V0.15H-0.5Z","M-1.05,-0.1H1.05V0.1H-1.05Z","M-1,0L0,-1L1,0L0,1Z"]}}
 }},
{"transform":[{"filter":"false"}],
 "mark":{"type":"point","filled":true,"strokeWidth":1.5,"opacity":1},
 "encoding":{
  "x":{"field":"i","type":"quantitative"},
  "y":{"field":"v","type":"quantitative"},
  "fill":{"field":"s","type":"nominal",
    "scale":{"domain":["1回目","2回目","3回目","4回目","5回目","6回目","7回目","8回目","9回目","10回目"],
             "range":["#000080","#FF00FF","#FFFF00","#00FFFF","#800080","#800000","#008080","#0000FF","#00CCFF","#CCFFFF"]},
    "legend":{"orient":"none","legendX":554,"legendY":78,"title":null,"strokeColor":"#000000","fillColor":"#FFFFFF","padding":4,"symbolSize":100,"symbolStrokeWidth":1.5,"symbolOffset":16.5,"labelOffset":19,"rowPadding":5.3,"labelFont":"Noto Sans CJK JP","labelFontSize":13,"labelFontWeight":"bold","labelColor":"#000000"}},
  "stroke":{"field":"s","type":"nominal",
    "scale":{"domain":["1回目","2回目","3回目","4回目","5回目","6回目","7回目","8回目","9回目","10回目"],
             "range":["#000080","#FF00FF","#FFFF00","#00FFFF","#800080","#800000","#008080","#0000FF","#00CCFF","#CCFFFF"]},
    "legend":{"orient":"none","legendX":554,"legendY":78,"title":null,"strokeColor":"#000000","fillColor":"#FFFFFF","padding":4,"symbolSize":100,"symbolStrokeWidth":1.5,"symbolOffset":16.5,"labelOffset":19,"rowPadding":5.3,"labelFont":"Noto Sans CJK JP","labelFontSize":13,"labelFontWeight":"bold","labelColor":"#000000"}},
  "shape":{"field":"s","type":"nominal",
    "scale":{"domain":["1回目","2回目","3回目","4回目","5回目","6回目","7回目","8回目","9回目","10回目"],
             "range":["M-4.64,0H-3.96M-1.76,0H-0.9M0.9,0H1.9M3.76,0H4.16M-0.8,0L0,-0.8L0.8,0L0,0.8Z","M-4.64,0H-3.96M-1.76,0H-0.9M0.9,0H1.9M3.76,0H4.16M-0.75,-0.75H0.75V0.75H-0.75Z","M-4.64,0H-3.96M-1.76,0H-0.9M0.9,0H1.9M3.76,0H4.16M0,-0.8L0.9,0.75L-0.9,0.75Z","M-4.64,0H-3.96M-1.76,0H-0.9M0.9,0H1.9M3.76,0H4.16M-0.8,-0.8L0.8,0.8M-0.8,0.8L0.8,-0.8","M-4.64,0H-3.96M-1.76,0H-0.9M0.9,0H1.9M3.76,0H4.16M-0.7,-0.7L0.7,0.7M-0.7,0.7L0.7,-0.7M0,-0.9V0.9","M-4.64,0H-3.96M-1.76,0H-0.9M0.9,0H1.9M3.76,0H4.16M-0.8,0A0.8,0.8,0,1,0,0.8,0A0.8,0.8,0,1,0,-0.8,0Z","M-4.64,0H-3.96M-1.76,0H-0.9M0.9,0H1.9M3.76,0H4.16M-0.9,0H0.9M0,-0.9V0.9","M-4.64,0H-3.96M-1.76,0H-0.9M0.9,0H1.9M3.76,0H4.16M-0.6,0H0.6","M-4.64,0H-3.96M-1.76,0H-0.9M0.9,0H1.9M3.76,0H4.16M-1.8,0H1.8","M-4.64,0H-3.96M-1.76,0H-0.9M0.9,0H1.9M3.76,0H4.16M-0.8,0L0,-0.8L0.8,0L0,0.8Z"]},
    "legend":{"orient":"none","legendX":554,"legendY":78,"title":null,"strokeColor":"#000000","fillColor":"#FFFFFF","padding":4,"symbolSize":100,"symbolStrokeWidth":1.5,"symbolOffset":16.5,"labelOffset":19,"rowPadding":5.3,"labelFont":"Noto Sans CJK JP","labelFontSize":13,"labelFontWeight":"bold","labelColor":"#000000"}}
 }},
{"data":{"values":[{}]},"mark":{"type":"rect","fill":"#FFFBF5"},
 "encoding":{"x":{"datum":-8,"type":"quantitative"},"x2":{"datum":120},"y":{"datum":30,"type":"quantitative"},"y2":{"datum":16.29}}},
{"data":{"values":[{}]},"mark":{"type":"rect","fill":"#FFFBF5"},
 "encoding":{"x":{"datum":-8,"type":"quantitative"},"x2":{"datum":-5.46},"y":{"datum":16.29,"type":"quantitative"},"y2":{"datum":-28}}},
{"data":{"values":[{}]},"mark":{"type":"rule","color":"#0000FF","strokeWidth":5.5},
 "encoding":{"x":{"datum":-4.45,"type":"quantitative"},"x2":{"datum":116.65},"y":{"datum":24.63,"type":"quantitative"}}},
{"data":{"values":[{}]},"mark":{"type":"point","filled":false,"shape":"M-2,-0.95L0,0L-2,0.95","size":400,"stroke":"#0000FF","strokeWidth":6,"strokeCap":"round","strokeJoin":"round","opacity":1},
 "encoding":{"x":{"datum":116.83,"type":"quantitative"},"y":{"datum":24.63,"type":"quantitative"}}}
]
}
